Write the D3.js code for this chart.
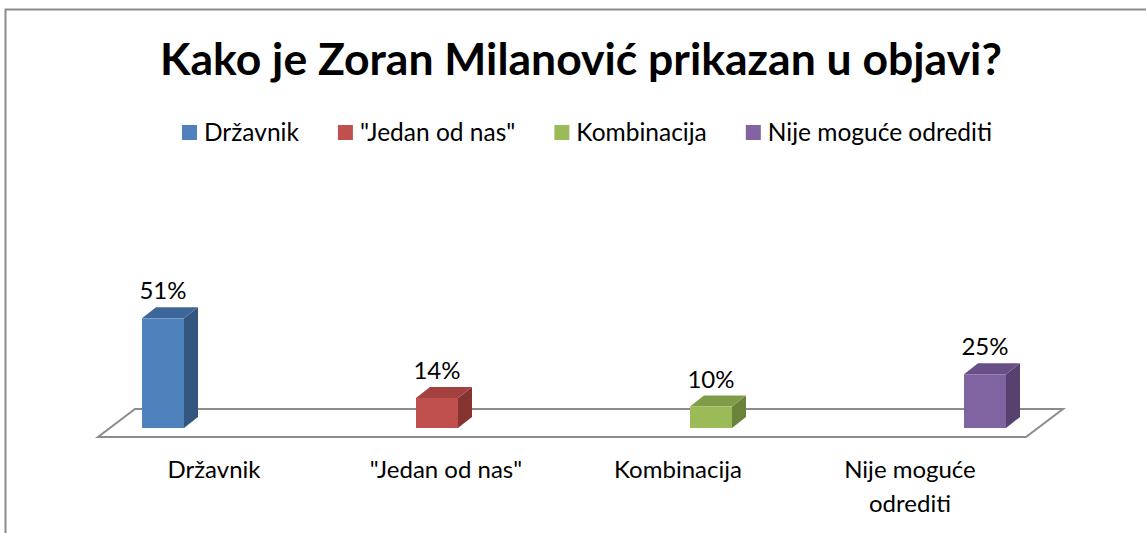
<!DOCTYPE html>
<html>
<head>
<meta charset="utf-8">
<script src="https://cdn.jsdelivr.net/npm/d3@7"></script>
<style>
  body { margin: 0; background: #fff; }
  svg { display: block; }
</style>
</head>
<body>
<div id="chart"></div>
<script>
// data
const categories = ["Državnik", "\"Jedan od nas\"", "Kombinacija", "Nije moguće odrediti"]
const values = [51, 14, 10, 25]
const valueLabels = ["51%", "14%", "10%", "25%"]
const axisLabels = [["Državnik"], ["\"Jedan od nas\""], ["Kombinacija"], ["Nije moguće", "odrediti"]]

const colours = ["#4F81BD", "#C0504D", "#9BBB59", "#8064A2"]
const topColours = ["#3D6798", "#A2413E", "#7F9C48", "#684F88"]
const sideColours = ["#33567F", "#863432", "#6A833B", "#56426F"]

const width = 1146, height = 533
const fontFamily = "Lato, 'Open Sans', sans-serif"

let svg = d3.select("#chart")
    .append("svg")
        .attr("width", width)
        .attr("height", height)

// chart border (cut off by the picture on the right and bottom)
svg.append("rect")
    .attr("x", 5.5)
    .attr("y", 9.5)
    .attr("width", 1300)
    .attr("height", 700)
    .attr("fill", "none")
    .attr("stroke", "#8c8c8c")
    .attr("stroke-width", 2)

// scales
let xBar = d3.scaleBand()
    .domain(categories)
    .range([26, 1122])

let xFloor = d3.scaleBand()
    .domain(categories)
    .range([98, 1026])

let y = d3.scaleLinear()
    .domain([0, 60])
    .range([428, 299])

// depth of the 3d effect
const depthX = 14, depthY = -11
const floorDX = 37, floorFront = 9, floorBack = -19

// floor
let f0 = xFloor.range()[0], f1 = xFloor.range()[1]
let base = y(0)
svg.append("path")
    .attr("d", `M${f0},${base + floorFront} L${f1},${base + floorFront} L${f1 + floorDX},${base + floorBack} L${f0 + floorDX},${base + floorBack} Z`)
    .attr("fill", "none")
    .attr("stroke", "#8c8c8c")
    .attr("stroke-width", 2)

// bars
let bw = 42
let bars = svg.selectAll("g.bar")
    .data(values)
    .join("g")
    .classed("bar", true)

bars.append("path") // side
    .attr("d", (d, i) => {
        let x1 = xBar(categories[i]) + xBar.bandwidth() / 2 + bw / 2
        return `M${x1},${y(d)} L${x1 + depthX},${y(d) + depthY} L${x1 + depthX},${y(0) + depthY} L${x1},${y(0)} Z`
    })
    .attr("fill", (d, i) => sideColours[i])

bars.append("path") // top
    .attr("d", (d, i) => {
        let x0 = xBar(categories[i]) + xBar.bandwidth() / 2 - bw / 2
        return `M${x0},${y(d)} L${x0 + depthX},${y(d) + depthY} L${x0 + bw + depthX},${y(d) + depthY} L${x0 + bw},${y(d)} Z`
    })
    .attr("fill", (d, i) => topColours[i])

bars.append("rect") // front
    .attr("x", (d, i) => xBar(categories[i]) + xBar.bandwidth() / 2 - bw / 2)
    .attr("y", d => y(d))
    .attr("width", bw)
    .attr("height", d => y(0) - y(d))
    .attr("fill", (d, i) => colours[i])

// value labels
svg.selectAll("text.value")
    .data(values)
    .join("text")
    .classed("value", true)
    .attr("x", (d, i) => xBar(categories[i]) + xBar.bandwidth() / 2)
    .attr("y", d => y(d) + depthY - 8)
    .attr("text-anchor", "middle")
    .attr("font-family", fontFamily)
    .attr("font-size", 24)
    .attr("fill", "#000")
    .text((d, i) => valueLabels[i])

// category labels
svg.selectAll("text.cat")
    .data(axisLabels)
    .join("text")
    .classed("cat", true)
    .attr("x", (d, i) => xFloor(categories[i]) + xFloor.bandwidth() / 2)
    .attr("y", 478)
    .attr("text-anchor", "middle")
    .attr("font-family", fontFamily)
    .attr("font-size", 24)
    .attr("fill", "#000")
    .each(function(lines) {
        let t = d3.select(this)
        lines.forEach((line, j) => {
            t.append("tspan")
                .attr("x", t.attr("x"))
                .attr("dy", j === 0 ? 0 : 34)
                .text(line)
        })
    })

// title
svg.append("text")
    .attr("x", 581)
    .attr("y", 75)
    .attr("text-anchor", "middle")
    .attr("font-family", fontFamily)
    .attr("font-weight", "bold")
    .attr("font-size", 44.5)
    .attr("fill", "#000")
    .text("Kako je Zoran Milanović prikazan u objavi?")

// legend
let legend = svg.append("g")
let lx = 0
categories.forEach((c, i) => {
    let g = legend.append("g").attr("transform", `translate(${lx},0)`)
    g.append("rect")
        .attr("x", 0)
        .attr("y", -7)
        .attr("width", 15)
        .attr("height", 15)
        .attr("fill", colours[i])
    let t = g.append("text")
        .attr("x", 22)
        .attr("y", 9)
        .attr("font-family", fontFamily)
        .attr("font-size", 24.5)
        .attr("fill", "#000")
        .text(c)
    lx += 22 + t.node().getComputedTextLength() + 39
})
let legendWidth = lx - 39
legend.attr("transform", `translate(${587 - legendWidth / 2},132)`)
</script>
</body>
</html>
